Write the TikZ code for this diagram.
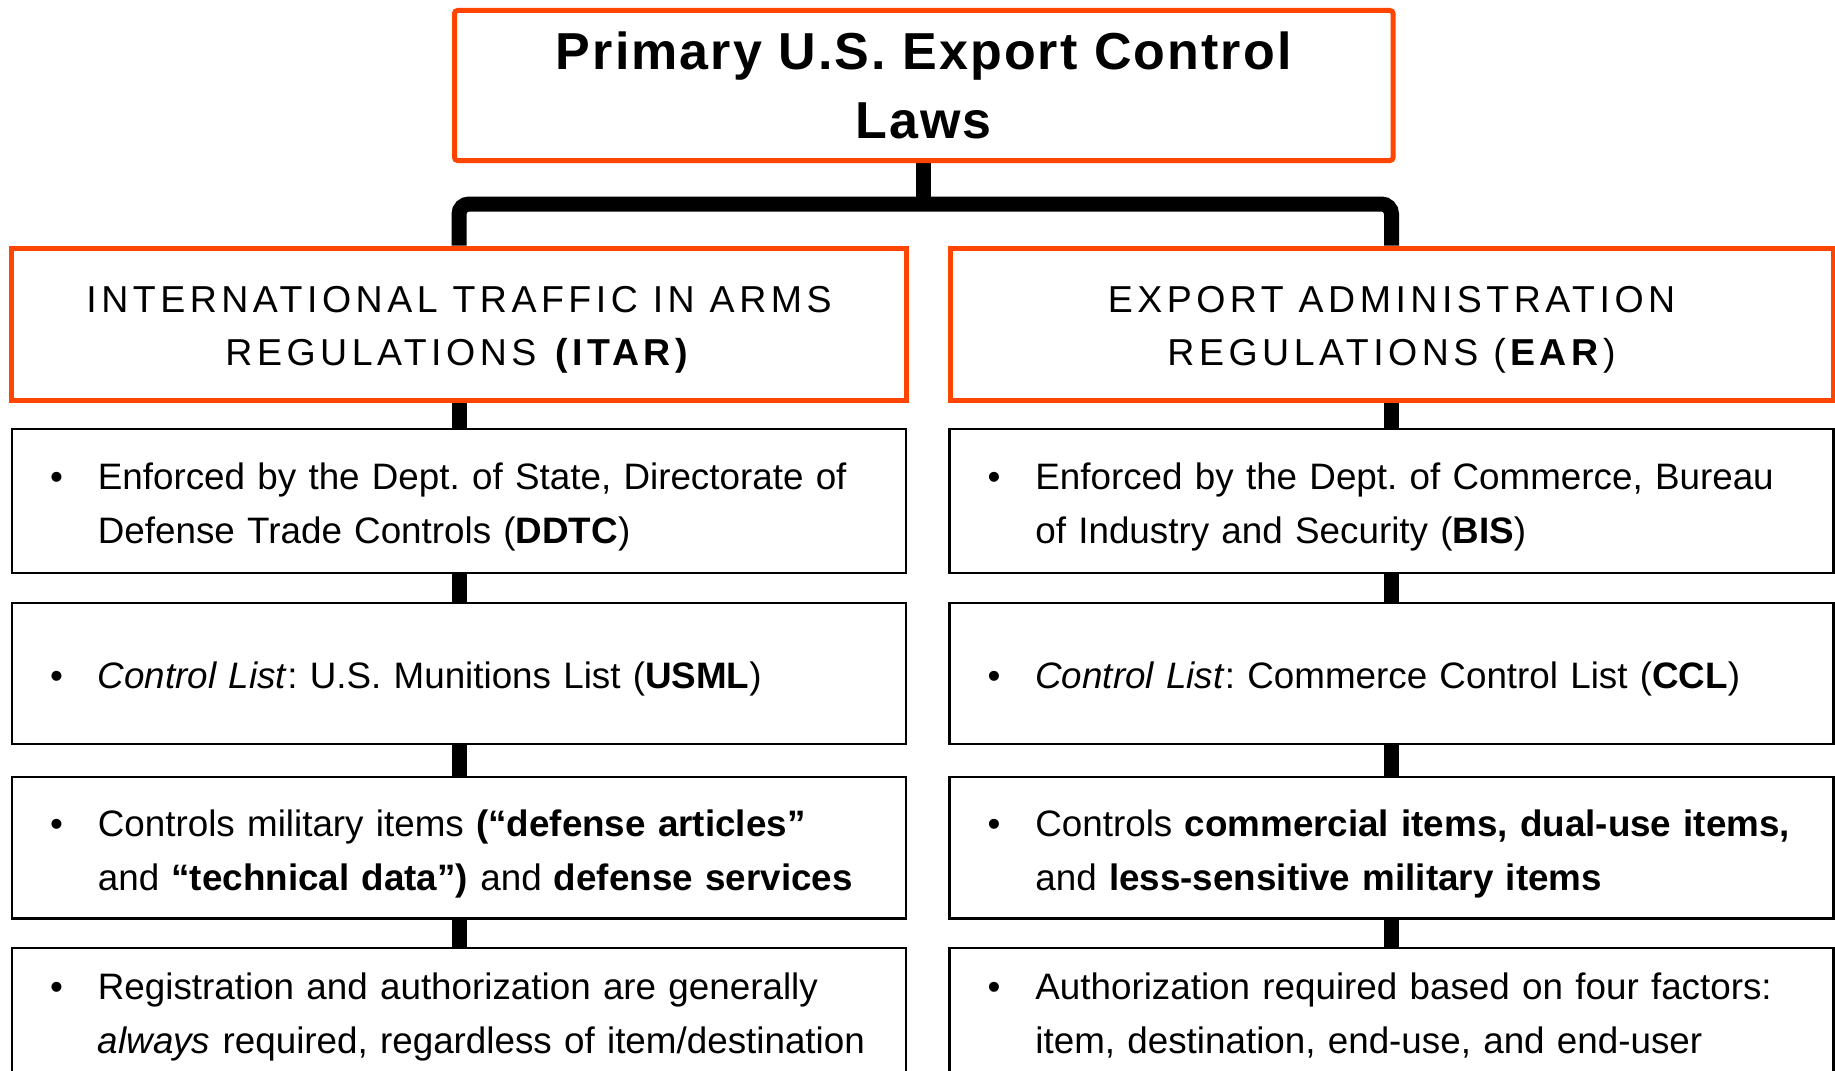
\documentclass[tikz,border=0pt]{standalone}
\usepackage{fontspec}
\setmainfont{Liberation Sans}
\newfontfamily\titlefont[LetterSpace=4]{Liberation Sans}
\newfontfamily\headfont[LetterSpace=12]{Liberation Sans}
\usetikzlibrary{backgrounds}

\definecolor{lawred}{HTML}{FF4500}

\frenchspacing

\newcommand{\bultext}[1]{\noindent\raisebox{0pt}[\dimexpr\height+9pt\relax][\depth]{%
\begin{tabular}{@{}l@{\hspace{35pt}}l@{}}\textbullet &
\begin{tabular}[t]{@{}l@{}}#1\end{tabular}\end{tabular}}}
\newcommand{\headstrut}{\rule{0pt}{38pt}}

\begin{document}
\begin{tikzpicture}[x=1pt, y=-1pt,
lawbox/.style={draw=lawred, line width=5pt, fill=white, align=center, inner sep=0pt},
listbox/.style={draw=black, line width=2.5pt, fill=white, inner xsep=38pt, inner ysep=0pt,
align=left, font={\fontsize{36.8}{54}\selectfont}},
link/.style={draw=black, line width=15pt}]

\useasboundingbox (0,0) rectangle (1835,1070);

\node [lawbox, minimum width=938.5pt, minimum height=150pt, rounded corners=3pt,
font={\titlefont\bfseries\fontsize{52}{69}\selectfont}] (laws)
 at (923.75, 85.5) {Primary U.S. Export Control\\Laws};


\node [lawbox, minimum width=895pt, minimum height=152pt,
font={\headfont\fontsize{37.5}{53.5}\selectfont}] (itar)
 at (459, 324) {\headstrut INTERNATIONAL TRAFFIC IN ARMS\\REGULATIONS \textbf{(ITAR)}};

\node [lawbox, minimum width=883pt, minimum height=152pt,
font={\headfont\fontsize{37.5}{53.5}\selectfont}] (ear)
 at (1391.5, 324) {\headstrut EXPORT ADMINISTRATION\\REGULATIONS (\textbf{EAR})};


\node [listbox, text width=818pt, minimum height=144pt] (itar1)
 at (459, 501) {\bultext{Enforced by the Dept. of State, Directorate of\\
Defense Trade Controls (\textbf{DDTC})}};

\node [listbox, text width=818pt, minimum height=141pt] (itar2)
 at (459, 673.5) {\bultext{\textit{Control List}: U.S. Munitions List (\textbf{USML})}};

\node [listbox, text width=818pt, minimum height=141.5pt] (itar3)
 at (459, 847.75) {\bultext{Controls military items \textbf{(“defense articles”}\\
and \textbf{“technical data”)} and \textbf{defense services}}};

\node [listbox, text width=818pt, minimum height=126pt] (itar4)
 at (459, 1011) {\bultext{Registration and authorization are generally\\
\textit{always} required, regardless of item/destination}};


\node [listbox, text width=808pt, minimum height=144pt] (ear1)
 at (1391.5, 501) {\bultext{Enforced by the Dept. of Commerce, Bureau\\
of Industry and Security (\textbf{BIS})}};

\node [listbox, text width=808pt, minimum height=141pt] (ear2)
 at (1391.5, 673.5) {\bultext{\textit{Control List}: Commerce Control List (\textbf{CCL})}};

\node [listbox, text width=808pt, minimum height=141.5pt] (ear3)
 at (1391.5, 847.75) {\bultext{Controls \textbf{commercial items, dual-use items,}\\
and \textbf{less-sensitive military items}}};

\node [listbox, text width=808pt, minimum height=126pt] (ear4)
 at (1391.5, 1011) {\bultext{Authorization required based on four factors:\\
item, destination, end-use, and end-user}};


\begin{scope}[on background layer]
\fill [white] (0,0) rectangle (1835,1070);
\coordinate (fork) at (923.75, 204);
\draw [link] (laws.south) -- (fork);
\draw [link, rounded corners=10pt] (itar.north) |- (fork) -| (ear.north);
\foreach \a/\b in {itar/itar1, itar1/itar2, itar2/itar3, itar3/itar4,
ear/ear1, ear1/ear2, ear2/ear3, ear3/ear4}
\draw [link] (\a.south) -- (\b.north);
\end{scope}

\end{tikzpicture}
\end{document}
